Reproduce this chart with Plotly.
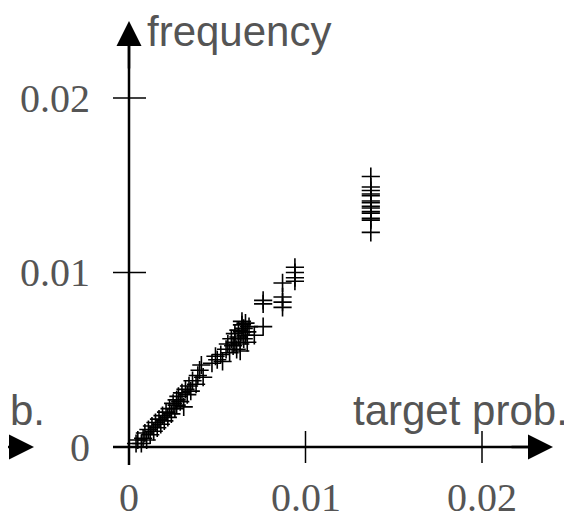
import plotly.graph_objects as go

# values
target_prob = [0.0004, 0.0005, 0.0007, 0.0008, 0.0009, 0.0010, 0.0011, 0.0012, 0.0013, 0.0014,
               0.0015, 0.0016, 0.0017, 0.0018, 0.0019, 0.0020, 0.0021, 0.0022, 0.0023, 0.0024,
               0.0025, 0.0026, 0.0027, 0.0027, 0.0028, 0.0029, 0.0030, 0.0031, 0.0032, 0.0033,
               0.0034, 0.0035, 0.0036, 0.0038, 0.0039, 0.0040, 0.0041, 0.0042,
               0.0047, 0.0049, 0.0050, 0.0052, 0.0053,
               0.0055, 0.0056, 0.0057, 0.0058, 0.0059, 0.0060, 0.0060, 0.0061, 0.0062, 0.0062,
               0.0063, 0.0064, 0.0064, 0.0065, 0.0065, 0.0066, 0.0066, 0.0067, 0.0067, 0.0068,
               0.0064, 0.0063,
               0.0071, 0.0076, 0.0076, 0.0076,
               0.0087, 0.0087, 0.0087, 0.0087,
               0.0094, 0.0094, 0.0094, 0.0094,
               0.0137, 0.0137, 0.0137, 0.0137, 0.0137, 0.0137, 0.0137, 0.0137, 0.0137, 0.0137,
               0.0137, 0.0137, 0.0137, 0.0137]
frequency = [0.0002, 0.0004, 0.0002, 0.0005, 0.0008, 0.0004, 0.0010, 0.0007, 0.0012, 0.0009,
             0.0014, 0.0011, 0.0016, 0.0013, 0.0018, 0.0015, 0.0020, 0.0017, 0.0022, 0.0019,
             0.0025, 0.0022, 0.0027, 0.0024, 0.0029, 0.0026, 0.0031, 0.0023, 0.0033, 0.0030,
             0.0035, 0.0032, 0.0038, 0.0036, 0.0041, 0.0044, 0.0047, 0.0040,
             0.0048, 0.0052, 0.0050, 0.0053, 0.0049,
             0.0056, 0.0059, 0.0054, 0.0062, 0.0058, 0.0065, 0.0060, 0.0056, 0.0067, 0.0063,
             0.0059, 0.0070, 0.0066, 0.0062, 0.0068, 0.0064, 0.0071, 0.0060, 0.0066, 0.0069,
             0.0072, 0.0055,
             0.0064, 0.0069, 0.0082, 0.0084,
             0.0094, 0.0086, 0.0083, 0.0080,
             0.0103, 0.0100, 0.0097, 0.0095,
             0.0155, 0.0149, 0.0147, 0.0145, 0.0144, 0.0141, 0.0140, 0.0138, 0.0137, 0.0135,
             0.0134, 0.0131, 0.0130, 0.0123]

x_ticks = [0, 0.01, 0.02]
x_tick_labels = ["0", "0.01", "0.02"]
y_ticks = [0, 0.01, 0.02]
y_tick_labels = ["0", "0.01", "0.02"]

# window pixel -> data helpers (page body has an 8px margin)
sx = 17650.0
sy = 17450.0

def px(p):
    return (p - 129) / sx

def py(p):
    return (447 - p) / sy

gray = "#555555"
fig = go.Figure()
fig.add_trace(go.Scatter(
    x=target_prob, y=frequency, mode="markers",
    marker=dict(symbol="cross-thin", size=13, line=dict(width=1.6, color="black")),
    showlegend=False, hoverinfo="skip"))

shapes = []
shapes.append(dict(type="line", x0=px(113), x1=px(540), y0=0, y1=0,
                   line=dict(color="black", width=2.5)))
shapes.append(dict(type="line", x0=0, x1=0, y0=py(465), y1=py(35),
                   line=dict(color="black", width=2.5)))
for t in x_ticks[1:]:
    shapes.append(dict(type="line", x0=t, x1=t, y0=py(431), y1=py(463),
                       line=dict(color="black", width=1.5)))
for t in y_ticks[1:]:
    shapes.append(dict(type="line", x0=px(113), x1=px(146), y0=t, y1=t,
                       line=dict(color="black", width=1.5)))
# remnant of neighbouring chart axis on the left
shapes.append(dict(type="line", x0=px(0), x1=px(20), y0=0, y1=0,
                   line=dict(color="black", width=2.5)))

arrow = dict(xref="x", yref="y", axref="x", ayref="y", showarrow=True, arrowhead=2,
             arrowsize=2.0, arrowwidth=2.5, arrowcolor="black", text="")
ann = []
ann.append(dict(arrow, x=px(553), y=0, ax=px(510), ay=0))
ann.append(dict(arrow, x=0, y=py(21), ax=0, ay=py(70)))
ann.append(dict(arrow, x=px(34), y=0, ax=px(8), ay=0))

serif = dict(family="Liberation Serif", size=40, color=gray)
sans = dict(family="Liberation Sans", size=42, color=gray)
for t, lab in zip(x_ticks, x_tick_labels):
    ann.append(dict(x=t, y=py(497), text=lab, showarrow=False, font=serif,
                    xanchor="center", yanchor="middle"))
for t, lab in zip(y_ticks, y_tick_labels):
    ann.append(dict(x=px(92), y=t, text=lab, showarrow=False, font=serif,
                    xanchor="right", yanchor="middle"))
ann.append(dict(x=px(145), y=py(31), text="frequency", showarrow=False, font=sans,
                xanchor="left", yanchor="middle"))
ann.append(dict(x=px(570), y=py(410), text="target prob.", showarrow=False, font=sans,
                xanchor="right", yanchor="middle"))
ann.append(dict(x=px(8), y=py(410), text="b.", showarrow=False, font=sans,
                xanchor="left", yanchor="middle"))

fig.update_layout(
    width=564, height=512,
    margin=dict(l=0, r=0, t=0, b=0),
    paper_bgcolor="white", plot_bgcolor="white",
    xaxis=dict(range=[px(8), px(572)], visible=False, fixedrange=True),
    yaxis=dict(range=[py(520), py(8)], visible=False, fixedrange=True),
    shapes=shapes, annotations=ann,
)

fig.write_html("out.html")
